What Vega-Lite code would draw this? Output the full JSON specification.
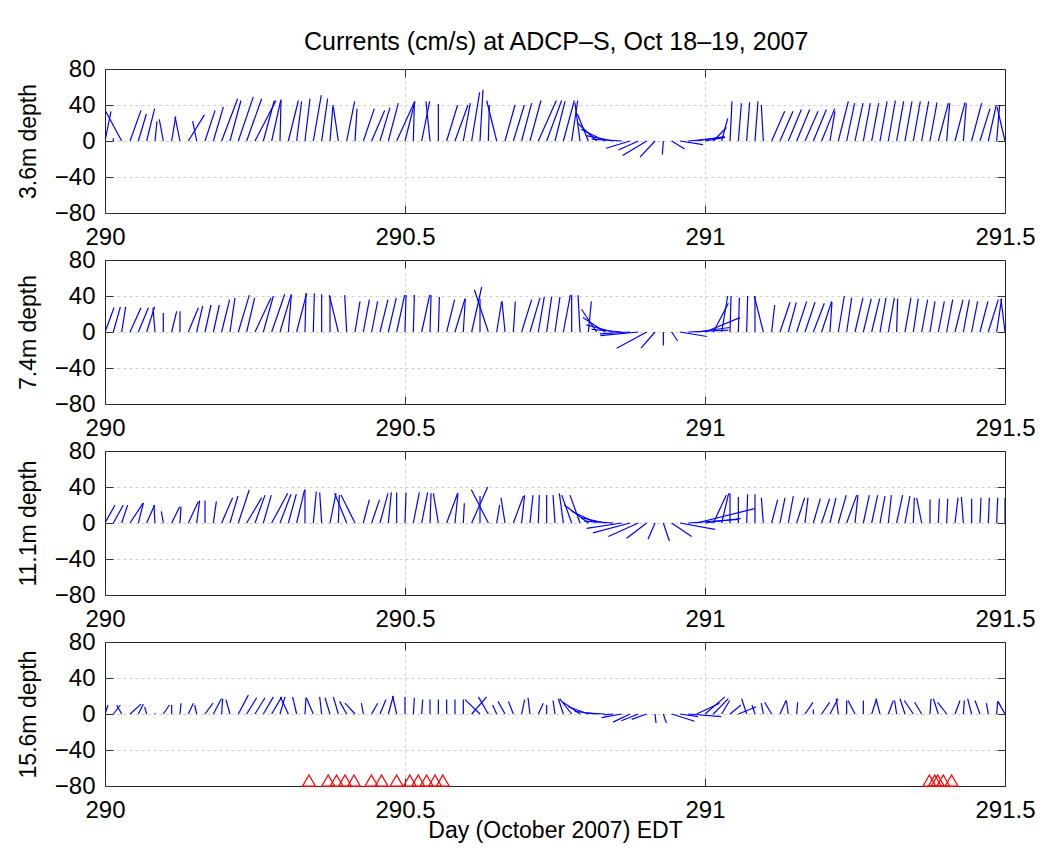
{
"$schema": "https://vega.github.io/schema/vega-lite/v6.json",
"padding": {"left": 16, "top": 29, "right": 12, "bottom": 6},
"title": {"text": "Currents (cm/s) at ADCP–S, Oct 18–19, 2007", "fontSize": 25, "fontWeight": "normal", "color": "#000", "offset": 2, "anchor": "middle", "dx": 30},
"datasets": {
"a": [
{"t":290.0000,"t2":290.0100,"v":33},{"t":290.0139,"t2":290.0139,"v":3},{"t":290.0278,"t2":290.0011,"v":33},{"t":290.0417,"t2":290.0600,"v":34},{"t":290.0556,"t2":290.0689,"v":30},{"t":290.0694,"t2":290.0827,"v":36},{"t":290.0833,"t2":290.0866,"v":22},{"t":290.0972,"t2":290.0905,"v":24},{"t":290.1111,"t2":290.1178,"v":27},{"t":290.1250,"t2":290.1167,"v":27},
{"t":290.1389,"t2":290.1656,"v":29},{"t":290.1528,"t2":290.1461,"v":22},{"t":290.1667,"t2":290.1834,"v":34},{"t":290.1806,"t2":290.1973,"v":38},{"t":290.1944,"t2":290.2211,"v":47},{"t":290.2083,"t2":290.2266,"v":45},{"t":290.2222,"t2":290.2472,"v":49},{"t":290.2361,"t2":290.2611,"v":47},{"t":290.2500,"t2":290.2850,"v":45},{"t":290.2639,"t2":290.2822,"v":45},
{"t":290.2778,"t2":290.2928,"v":45},{"t":290.2917,"t2":290.2934,"v":46},{"t":290.3056,"t2":290.3223,"v":45},{"t":290.3194,"t2":290.3277,"v":44},{"t":290.3333,"t2":290.3416,"v":47},{"t":290.3472,"t2":290.3605,"v":51},{"t":290.3611,"t2":290.3711,"v":47},{"t":290.3750,"t2":290.3800,"v":40},{"t":290.3889,"t2":290.3806,"v":38},{"t":290.4028,"t2":290.4161,"v":44},
{"t":290.4167,"t2":290.4200,"v":36},{"t":290.4306,"t2":290.4489,"v":36},{"t":290.4444,"t2":290.4661,"v":34},{"t":290.4583,"t2":290.4750,"v":37},{"t":290.4722,"t2":290.4889,"v":42},{"t":290.4861,"t2":290.5161,"v":44},{"t":290.5000,"t2":290.5167,"v":44},{"t":290.5139,"t2":290.5156,"v":42},{"t":290.5278,"t2":290.5411,"v":44},{"t":290.5417,"t2":290.5350,"v":44},
{"t":290.5556,"t2":290.5556,"v":41},{"t":290.5694,"t2":290.5877,"v":40},{"t":290.5833,"t2":290.6050,"v":40},{"t":290.5972,"t2":290.6089,"v":42},{"t":290.6111,"t2":290.6244,"v":54},{"t":290.6250,"t2":290.6300,"v":57},{"t":290.6389,"t2":290.6406,"v":40},{"t":290.6528,"t2":290.6361,"v":45},{"t":290.6667,"t2":290.6834,"v":40},{"t":290.6806,"t2":290.6989,"v":40},
{"t":290.6944,"t2":290.7111,"v":42},{"t":290.7083,"t2":290.7266,"v":45},{"t":290.7222,"t2":290.7522,"v":45},{"t":290.7361,"t2":290.7611,"v":45},{"t":290.7500,"t2":290.7667,"v":44},{"t":290.7639,"t2":290.7822,"v":45},{"t":290.7778,"t2":290.7878,"v":45},{"t":290.7917,"t2":290.7834,"v":42},{"t":290.8056,"t2":290.7873,"v":30},{"t":290.8194,"t2":290.7877,"v":20},
{"t":290.8333,"t2":290.7933,"v":13},{"t":290.8472,"t2":290.8022,"v":6},{"t":290.8611,"t2":290.8111,"v":2},{"t":290.8750,"t2":290.8350,"v":-8},{"t":290.8889,"t2":290.8556,"v":-10},{"t":290.9028,"t2":290.8628,"v":-16},{"t":290.9167,"t2":290.8917,"v":-18},{"t":290.9306,"t2":290.9289,"v":-15},{"t":290.9444,"t2":290.9661,"v":-9},{"t":290.9583,"t2":290.9966,"v":-4},
{"t":290.9722,"t2":291.0322,"v":4},{"t":290.9861,"t2":291.0328,"v":5},{"t":291.0000,"t2":291.0333,"v":4},{"t":291.0139,"t2":291.0356,"v":15},{"t":291.0278,"t2":291.0378,"v":25},{"t":291.0417,"t2":291.0450,"v":44},{"t":291.0556,"t2":291.0606,"v":42},{"t":291.0694,"t2":291.0744,"v":43},{"t":291.0833,"t2":291.0883,"v":44},{"t":291.0972,"t2":291.0939,"v":40},
{"t":291.1111,"t2":291.1328,"v":33},{"t":291.1250,"t2":291.1467,"v":33},{"t":291.1389,"t2":291.1606,"v":35},{"t":291.1528,"t2":291.1745,"v":35},{"t":291.1667,"t2":291.1884,"v":33},{"t":291.1806,"t2":291.2023,"v":35},{"t":291.1944,"t2":291.2161,"v":36},{"t":291.2083,"t2":291.2166,"v":33},{"t":291.2222,"t2":291.2389,"v":44},{"t":291.2361,"t2":291.2494,"v":42},
{"t":291.2500,"t2":291.2633,"v":42},{"t":291.2639,"t2":291.2756,"v":42},{"t":291.2778,"t2":291.2895,"v":42},{"t":291.2917,"t2":291.3034,"v":44},{"t":291.3056,"t2":291.3173,"v":45},{"t":291.3194,"t2":291.3311,"v":44},{"t":291.3333,"t2":291.3450,"v":44},{"t":291.3472,"t2":291.3589,"v":44},{"t":291.3611,"t2":291.3728,"v":44},{"t":291.3750,"t2":291.3867,"v":43},
{"t":291.3889,"t2":291.4056,"v":42},{"t":291.4028,"t2":291.4078,"v":42},{"t":291.4167,"t2":291.4334,"v":43},{"t":291.4306,"t2":291.4356,"v":42},{"t":291.4444,"t2":291.4611,"v":42},{"t":291.4583,"t2":291.4750,"v":36},{"t":291.4722,"t2":291.4855,"v":40},{"t":291.4861,"t2":291.4911,"v":40},{"t":291.5000,"t2":291.4867,"v":38}
],
"b": [
{"t":290.0000,"t2":290.0150,"v":27},{"t":290.0139,"t2":290.0256,"v":28},{"t":290.0278,"t2":290.0345,"v":28},{"t":290.0417,"t2":290.0600,"v":27},{"t":290.0556,"t2":290.0723,"v":27},{"t":290.0694,"t2":290.0827,"v":28},{"t":290.0833,"t2":290.0800,"v":27},{"t":290.0972,"t2":290.0972,"v":21},{"t":290.1111,"t2":290.1194,"v":23},{"t":290.1250,"t2":290.1250,"v":23},
{"t":290.1389,"t2":290.1556,"v":27},{"t":290.1528,"t2":290.1628,"v":29},{"t":290.1667,"t2":290.1767,"v":30},{"t":290.1806,"t2":290.1906,"v":30},{"t":290.1944,"t2":290.2077,"v":36},{"t":290.2083,"t2":290.2166,"v":38},{"t":290.2222,"t2":290.2405,"v":41},{"t":290.2361,"t2":290.2494,"v":38},{"t":290.2500,"t2":290.2767,"v":38},{"t":290.2639,"t2":290.2806,"v":40},
{"t":290.2778,"t2":290.2995,"v":42},{"t":290.2917,"t2":290.3100,"v":41},{"t":290.3056,"t2":290.3106,"v":42},{"t":290.3194,"t2":290.3361,"v":43},{"t":290.3333,"t2":290.3350,"v":43},{"t":290.3472,"t2":290.3489,"v":43},{"t":290.3611,"t2":290.3611,"v":42},{"t":290.3750,"t2":290.3750,"v":40},{"t":290.3889,"t2":290.3739,"v":41},{"t":290.4028,"t2":290.3995,"v":41},
{"t":290.4167,"t2":290.4250,"v":34},{"t":290.4306,"t2":290.4406,"v":36},{"t":290.4444,"t2":290.4544,"v":34},{"t":290.4583,"t2":290.4716,"v":36},{"t":290.4722,"t2":290.4855,"v":38},{"t":290.4861,"t2":290.4994,"v":41},{"t":290.5000,"t2":290.5017,"v":41},{"t":290.5139,"t2":290.5156,"v":41},{"t":290.5278,"t2":290.5411,"v":41},{"t":290.5417,"t2":290.5434,"v":41},
{"t":290.5556,"t2":290.5573,"v":39},{"t":290.5694,"t2":290.5827,"v":36},{"t":290.5833,"t2":290.6000,"v":37},{"t":290.5972,"t2":290.6005,"v":37},{"t":290.6111,"t2":290.6278,"v":50},{"t":290.6250,"t2":290.6250,"v":37},{"t":290.6389,"t2":290.6156,"v":47},{"t":290.6528,"t2":290.6611,"v":34},{"t":290.6667,"t2":290.6617,"v":34},{"t":290.6806,"t2":290.6839,"v":34},
{"t":290.6944,"t2":290.7111,"v":36},{"t":290.7083,"t2":290.7250,"v":38},{"t":290.7222,"t2":290.7322,"v":39},{"t":290.7361,"t2":290.7444,"v":39},{"t":290.7500,"t2":290.7583,"v":39},{"t":290.7639,"t2":290.7756,"v":41},{"t":290.7778,"t2":290.7778,"v":41},{"t":290.7917,"t2":290.7884,"v":41},{"t":290.8056,"t2":290.8106,"v":34},{"t":290.8194,"t2":290.7944,"v":25},
{"t":290.8333,"t2":290.7966,"v":16},{"t":290.8472,"t2":290.8022,"v":8},{"t":290.8611,"t2":290.8111,"v":3},{"t":290.8750,"t2":290.8250,"v":-2},{"t":290.8889,"t2":290.8256,"v":-4},{"t":290.9028,"t2":290.8528,"v":-18},{"t":290.9167,"t2":290.8934,"v":-18},{"t":290.9306,"t2":290.9306,"v":-15},{"t":290.9444,"t2":290.9544,"v":-10},{"t":290.9583,"t2":291.0033,"v":-5},
{"t":290.9722,"t2":291.0389,"v":2},{"t":290.9861,"t2":291.0411,"v":5},{"t":291.0000,"t2":291.0583,"v":16},{"t":291.0139,"t2":291.0389,"v":32},{"t":291.0278,"t2":291.0378,"v":40},{"t":291.0417,"t2":291.0434,"v":40},{"t":291.0556,"t2":291.0573,"v":38},{"t":291.0694,"t2":291.0711,"v":40},{"t":291.0833,"t2":291.0833,"v":40},{"t":291.0972,"t2":291.0822,"v":40},
{"t":291.1111,"t2":291.1161,"v":30},{"t":291.1250,"t2":291.1417,"v":33},{"t":291.1389,"t2":291.1522,"v":33},{"t":291.1528,"t2":291.1695,"v":34},{"t":291.1667,"t2":291.1834,"v":33},{"t":291.1806,"t2":291.1989,"v":32},{"t":291.1944,"t2":291.2111,"v":34},{"t":291.2083,"t2":291.2116,"v":33},{"t":291.2222,"t2":291.2322,"v":40},{"t":291.2361,"t2":291.2444,"v":38},
{"t":291.2500,"t2":291.2633,"v":38},{"t":291.2639,"t2":291.2772,"v":37},{"t":291.2778,"t2":291.2911,"v":37},{"t":291.2917,"t2":291.3017,"v":38},{"t":291.3056,"t2":291.3156,"v":38},{"t":291.3194,"t2":291.3211,"v":37},{"t":291.3333,"t2":291.3433,"v":38},{"t":291.3472,"t2":291.3555,"v":37},{"t":291.3611,"t2":291.3711,"v":36},{"t":291.3750,"t2":291.3833,"v":34},
{"t":291.3889,"t2":291.3989,"v":34},{"t":291.4028,"t2":291.4128,"v":36},{"t":291.4167,"t2":291.4300,"v":36},{"t":291.4306,"t2":291.4406,"v":36},{"t":291.4444,"t2":291.4544,"v":34},{"t":291.4583,"t2":291.4716,"v":34},{"t":291.4722,"t2":291.4889,"v":36},{"t":291.4861,"t2":291.4944,"v":37},{"t":291.5000,"t2":291.4933,"v":37}
],
"c": [
{"t":290.0000,"t2":290.0167,"v":20},{"t":290.0139,"t2":290.0306,"v":20},{"t":290.0278,"t2":290.0378,"v":20},{"t":290.0417,"t2":290.0634,"v":22},{"t":290.0556,"t2":290.0639,"v":22},{"t":290.0694,"t2":290.0827,"v":20},{"t":290.0833,"t2":290.0816,"v":20},{"t":290.0972,"t2":290.0939,"v":13},{"t":290.1111,"t2":290.1244,"v":18},{"t":290.1250,"t2":290.1267,"v":18},
{"t":290.1389,"t2":290.1556,"v":24},{"t":290.1528,"t2":290.1578,"v":25},{"t":290.1667,"t2":290.1667,"v":25},{"t":290.1806,"t2":290.1856,"v":24},{"t":290.1944,"t2":290.2127,"v":28},{"t":290.2083,"t2":290.2216,"v":30},{"t":290.2222,"t2":290.2405,"v":37},{"t":290.2361,"t2":290.2611,"v":28},{"t":290.2500,"t2":290.2667,"v":31},{"t":290.2639,"t2":290.2772,"v":31},
{"t":290.2778,"t2":290.3045,"v":33},{"t":290.2917,"t2":290.3100,"v":32},{"t":290.3056,"t2":290.3189,"v":32},{"t":290.3194,"t2":290.3327,"v":37},{"t":290.3333,"t2":290.3333,"v":37},{"t":290.3472,"t2":290.3522,"v":35},{"t":290.3611,"t2":290.3578,"v":34},{"t":290.3750,"t2":290.3850,"v":33},{"t":290.3889,"t2":290.3906,"v":31},{"t":290.4028,"t2":290.3828,"v":33},
{"t":290.4167,"t2":290.3934,"v":31},{"t":290.4306,"t2":290.4406,"v":26},{"t":290.4444,"t2":290.4577,"v":26},{"t":290.4583,"t2":290.4716,"v":33},{"t":290.4722,"t2":290.4772,"v":34},{"t":290.4861,"t2":290.4861,"v":34},{"t":290.5000,"t2":290.5017,"v":34},{"t":290.5139,"t2":290.5239,"v":34},{"t":290.5278,"t2":290.5378,"v":34},{"t":290.5417,"t2":290.5434,"v":33},
{"t":290.5556,"t2":290.5473,"v":33},{"t":290.5694,"t2":290.5877,"v":33},{"t":290.5833,"t2":290.5883,"v":33},{"t":290.5972,"t2":290.5989,"v":22},{"t":290.6111,"t2":290.6378,"v":40},{"t":290.6250,"t2":290.6250,"v":30},{"t":290.6389,"t2":290.6106,"v":37},{"t":290.6528,"t2":290.6578,"v":20},{"t":290.6667,"t2":290.6600,"v":28},{"t":290.6806,"t2":290.6973,"v":30},
{"t":290.6944,"t2":290.6994,"v":31},{"t":290.7083,"t2":290.7133,"v":31},{"t":290.7222,"t2":290.7239,"v":31},{"t":290.7361,"t2":290.7361,"v":31},{"t":290.7500,"t2":290.7467,"v":31},{"t":290.7639,"t2":290.7572,"v":33},{"t":290.7778,"t2":290.7611,"v":31},{"t":290.7917,"t2":290.7750,"v":31},{"t":290.8056,"t2":290.7656,"v":20},{"t":290.8194,"t2":290.7777,"v":13},
{"t":290.8333,"t2":290.7933,"v":6},{"t":290.8472,"t2":290.7989,"v":2},{"t":290.8611,"t2":290.8028,"v":-6},{"t":290.8750,"t2":290.8133,"v":-11},{"t":290.8889,"t2":290.8389,"v":-15},{"t":290.9028,"t2":290.8695,"v":-17},{"t":290.9167,"t2":290.9050,"v":-18},{"t":290.9306,"t2":290.9406,"v":-20},{"t":290.9444,"t2":290.9777,"v":-15},{"t":290.9583,"t2":291.0166,"v":-7},
{"t":290.9722,"t2":291.0555,"v":4},{"t":290.9861,"t2":291.0828,"v":16},{"t":291.0000,"t2":291.0600,"v":5},{"t":291.0139,"t2":291.0356,"v":31},{"t":291.0278,"t2":291.0395,"v":33},{"t":291.0417,"t2":291.0417,"v":33},{"t":291.0556,"t2":291.0556,"v":29},{"t":291.0694,"t2":291.0711,"v":32},{"t":291.0833,"t2":291.0833,"v":32},{"t":291.0972,"t2":291.0939,"v":28},
{"t":291.1111,"t2":291.1211,"v":26},{"t":291.1250,"t2":291.1333,"v":28},{"t":291.1389,"t2":291.1472,"v":30},{"t":291.1528,"t2":291.1661,"v":28},{"t":291.1667,"t2":291.1717,"v":28},{"t":291.1806,"t2":291.1923,"v":27},{"t":291.1944,"t2":291.2077,"v":27},{"t":291.2083,"t2":291.2183,"v":28},{"t":291.2222,"t2":291.2355,"v":31},{"t":291.2361,"t2":291.2528,"v":31},
{"t":291.2500,"t2":291.2550,"v":31},{"t":291.2639,"t2":291.2739,"v":31},{"t":291.2778,"t2":291.2878,"v":31},{"t":291.2917,"t2":291.3000,"v":30},{"t":291.3056,"t2":291.3106,"v":31},{"t":291.3194,"t2":291.3294,"v":31},{"t":291.3333,"t2":291.3416,"v":30},{"t":291.3472,"t2":291.3489,"v":28},{"t":291.3611,"t2":291.3528,"v":28},{"t":291.3750,"t2":291.3750,"v":26},
{"t":291.3889,"t2":291.3906,"v":27},{"t":291.4028,"t2":291.4045,"v":27},{"t":291.4167,"t2":291.4217,"v":28},{"t":291.4306,"t2":291.4273,"v":29},{"t":291.4444,"t2":291.4444,"v":27},{"t":291.4583,"t2":291.4600,"v":28},{"t":291.4722,"t2":291.4739,"v":28},{"t":291.4861,"t2":291.4878,"v":28},{"t":291.5000,"t2":291.5000,"v":28}
],
"d": [
{"t":290.0000,"t2":290.0050,"v":10},{"t":290.0139,"t2":290.0256,"v":10},{"t":290.0278,"t2":290.0195,"v":10},{"t":290.0417,"t2":290.0600,"v":11},{"t":290.0556,"t2":290.0639,"v":11},{"t":290.0694,"t2":290.0661,"v":8},{"t":290.0833,"t2":290.0833,"v":1},{"t":290.0972,"t2":290.1072,"v":10},{"t":290.1111,"t2":290.1111,"v":10},{"t":290.1250,"t2":290.1267,"v":12},
{"t":290.1389,"t2":290.1472,"v":12},{"t":290.1528,"t2":290.1495,"v":10},{"t":290.1667,"t2":290.1800,"v":12},{"t":290.1806,"t2":290.1939,"v":17},{"t":290.1944,"t2":290.1961,"v":17},{"t":290.2083,"t2":290.2016,"v":16},{"t":290.2222,"t2":290.2389,"v":21},{"t":290.2361,"t2":290.2528,"v":18},{"t":290.2500,"t2":290.2667,"v":18},{"t":290.2639,"t2":290.2806,"v":19},
{"t":290.2778,"t2":290.2945,"v":19},{"t":290.2917,"t2":290.3000,"v":19},{"t":290.3056,"t2":290.2923,"v":19},{"t":290.3194,"t2":290.3127,"v":19},{"t":290.3333,"t2":290.3350,"v":18},{"t":290.3472,"t2":290.3355,"v":18},{"t":290.3611,"t2":290.3578,"v":19},{"t":290.3750,"t2":290.3667,"v":18},{"t":290.3889,"t2":290.3806,"v":19},{"t":290.4028,"t2":290.3911,"v":14},
{"t":290.4167,"t2":290.4000,"v":12},{"t":290.4306,"t2":290.4273,"v":12},{"t":290.4444,"t2":290.4544,"v":12},{"t":290.4583,"t2":290.4683,"v":16},{"t":290.4722,"t2":290.4805,"v":20},{"t":290.4861,"t2":290.4794,"v":20},{"t":290.5000,"t2":290.5000,"v":19},{"t":290.5139,"t2":290.5156,"v":18},{"t":290.5278,"t2":290.5295,"v":16},{"t":290.5417,"t2":290.5417,"v":16},
{"t":290.5556,"t2":290.5556,"v":16},{"t":290.5694,"t2":290.5694,"v":16},{"t":290.5833,"t2":290.5833,"v":16},{"t":290.5972,"t2":290.5972,"v":16},{"t":290.6111,"t2":290.6361,"v":19},{"t":290.6250,"t2":290.6000,"v":16},{"t":290.6389,"t2":290.6222,"v":19},{"t":290.6528,"t2":290.6461,"v":10},{"t":290.6667,"t2":290.6550,"v":14},{"t":290.6806,"t2":290.6723,"v":14},
{"t":290.6944,"t2":290.6994,"v":16},{"t":290.7083,"t2":290.7050,"v":18},{"t":290.7222,"t2":290.7305,"v":12},{"t":290.7361,"t2":290.7361,"v":10},{"t":290.7500,"t2":290.7467,"v":15},{"t":290.7639,"t2":290.7556,"v":17},{"t":290.7778,"t2":290.7578,"v":17},{"t":290.7917,"t2":290.7634,"v":13},{"t":290.8056,"t2":290.7723,"v":8},{"t":290.8194,"t2":290.7827,"v":3},
{"t":290.8333,"t2":290.8050,"v":1},{"t":290.8472,"t2":290.8322,"v":-1},{"t":290.8611,"t2":290.8278,"v":-4},{"t":290.8750,"t2":290.8467,"v":-9},{"t":290.8889,"t2":290.8606,"v":-7.5},{"t":290.9028,"t2":290.8778,"v":-6},{"t":290.9167,"t2":290.9184,"v":-10},{"t":290.9306,"t2":290.9356,"v":-10},{"t":290.9444,"t2":290.9827,"v":-8},{"t":290.9583,"t2":290.9883,"v":-3},
{"t":290.9722,"t2":291.0272,"v":-3},{"t":290.9861,"t2":291.0244,"v":12},{"t":291.0000,"t2":291.0333,"v":19},{"t":291.0139,"t2":291.0389,"v":17},{"t":291.0278,"t2":291.0411,"v":15},{"t":291.0417,"t2":291.0600,"v":10},{"t":291.0556,"t2":291.0856,"v":8},{"t":291.0694,"t2":291.0611,"v":17},{"t":291.0833,"t2":291.0783,"v":10},{"t":291.0972,"t2":291.0939,"v":12},
{"t":291.1111,"t2":291.0994,"v":13},{"t":291.1250,"t2":291.1350,"v":15},{"t":291.1389,"t2":291.1356,"v":15},{"t":291.1528,"t2":291.1545,"v":13},{"t":291.1667,"t2":291.1800,"v":13},{"t":291.1806,"t2":291.1806,"v":5},{"t":291.1944,"t2":291.2077,"v":13},{"t":291.2083,"t2":291.2216,"v":17},{"t":291.2222,"t2":291.2189,"v":17},{"t":291.2361,"t2":291.2361,"v":15},
{"t":291.2500,"t2":291.2383,"v":15},{"t":291.2639,"t2":291.2639,"v":15},{"t":291.2778,"t2":291.2861,"v":17},{"t":291.2917,"t2":291.2850,"v":17},{"t":291.3056,"t2":291.3139,"v":15},{"t":291.3194,"t2":291.3161,"v":15},{"t":291.3333,"t2":291.3250,"v":17},{"t":291.3472,"t2":291.3322,"v":15},{"t":291.3611,"t2":291.3494,"v":13},{"t":291.3750,"t2":291.3767,"v":17},
{"t":291.3889,"t2":291.3806,"v":17},{"t":291.4028,"t2":291.3878,"v":13},{"t":291.4167,"t2":291.4250,"v":15},{"t":291.4306,"t2":291.4323,"v":15},{"t":291.4444,"t2":291.4377,"v":17},{"t":291.4583,"t2":291.4500,"v":15},{"t":291.4722,"t2":291.4689,"v":12},{"t":291.4861,"t2":291.4878,"v":14},{"t":291.5000,"t2":291.4883,"v":14}
],
"tri": [
{"t":290.340,"y":-74},{"t":290.372,"y":-74},{"t":290.386,"y":-74},{"t":290.400,"y":-74},{"t":290.415,"y":-74},{"t":290.444,"y":-74},{"t":290.461,"y":-74},{"t":290.486,"y":-74},{"t":290.508,"y":-74},{"t":290.522,"y":-74},{"t":290.536,"y":-74},{"t":290.550,"y":-74},{"t":290.563,"y":-74},
{"t":291.374,"y":-74},{"t":291.383,"y":-74},{"t":291.388,"y":-74},{"t":291.397,"y":-74},{"t":291.411,"y":-74}
]
},
"spacing": 47,
"bounds": "flush",
"vconcat": [
{"width": 900, "height": 144, "resolve": {"axis": {"x": "independent", "y": "independent"}},
 "layer": [
  {"data": {"name": "a"}, "mark": {"type": "rule", "color": "#0000ff", "strokeWidth": 1.2, "clip": true},
   "encoding": {
    "x": {"field": "t2", "type": "quantitative", "scale": {"domain": [290, 291.5], "nice": false, "zero": false}, "axis": {"values": [290, 290.5, 291, 291.5], "format": "~g", "labelFlush": false, "labelPadding": 20, "title": null, "grid": true, "gridOpacity": {"condition": {"test": "datum.value == 290 || datum.value == 291.5", "value": 0}, "value": 1}}},
    "x2": {"field": "t"},
    "y": {"field": "v", "type": "quantitative", "scale": {"domain": [-80, 80], "nice": false}, "axis": {"values": [-80, -40, 0, 40, 80], "labelPadding": 18, "title": "3.6m depth", "titlePadding": 14, "grid": true, "gridOpacity": {"condition": {"test": "abs(datum.value) == 80", "value": 0}, "value": 1}}},
    "y2": {"datum": 0}}},
  {"mark": {"type": "rule", "color": "#000", "strokeWidth": 1.2},
   "encoding": {
    "x": {"datum": 290, "type": "quantitative", "axis": {"orient": "top", "values": [290.5, 291], "labels": false, "grid": false, "title": null}},
    "x2": {"datum": 291.5},
    "y": {"datum": 0, "type": "quantitative", "axis": {"orient": "right", "values": [-40, 0, 40], "labels": false, "grid": false, "title": null}}}}
 ]},
{"width": 900, "height": 144, "resolve": {"axis": {"x": "independent", "y": "independent"}},
 "layer": [
  {"data": {"name": "b"}, "mark": {"type": "rule", "color": "#0000ff", "strokeWidth": 1.2, "clip": true},
   "encoding": {
    "x": {"field": "t2", "type": "quantitative", "scale": {"domain": [290, 291.5], "nice": false, "zero": false}, "axis": {"values": [290, 290.5, 291, 291.5], "format": "~g", "labelFlush": false, "labelPadding": 20, "title": null, "grid": true, "gridOpacity": {"condition": {"test": "datum.value == 290 || datum.value == 291.5", "value": 0}, "value": 1}}},
    "x2": {"field": "t"},
    "y": {"field": "v", "type": "quantitative", "scale": {"domain": [-80, 80], "nice": false}, "axis": {"values": [-80, -40, 0, 40, 80], "labelPadding": 18, "title": "7.4m depth", "titlePadding": 14, "grid": true, "gridOpacity": {"condition": {"test": "abs(datum.value) == 80", "value": 0}, "value": 1}}},
    "y2": {"datum": 0}}},
  {"mark": {"type": "rule", "color": "#000", "strokeWidth": 1.2},
   "encoding": {
    "x": {"datum": 290, "type": "quantitative", "axis": {"orient": "top", "values": [290.5, 291], "labels": false, "grid": false, "title": null}},
    "x2": {"datum": 291.5},
    "y": {"datum": 0, "type": "quantitative", "axis": {"orient": "right", "values": [-40, 0, 40], "labels": false, "grid": false, "title": null}}}}
 ]},
{"width": 900, "height": 144, "resolve": {"axis": {"x": "independent", "y": "independent"}},
 "layer": [
  {"data": {"name": "c"}, "mark": {"type": "rule", "color": "#0000ff", "strokeWidth": 1.2, "clip": true},
   "encoding": {
    "x": {"field": "t2", "type": "quantitative", "scale": {"domain": [290, 291.5], "nice": false, "zero": false}, "axis": {"values": [290, 290.5, 291, 291.5], "format": "~g", "labelFlush": false, "labelPadding": 20, "title": null, "grid": true, "gridOpacity": {"condition": {"test": "datum.value == 290 || datum.value == 291.5", "value": 0}, "value": 1}}},
    "x2": {"field": "t"},
    "y": {"field": "v", "type": "quantitative", "scale": {"domain": [-80, 80], "nice": false}, "axis": {"values": [-80, -40, 0, 40, 80], "labelPadding": 18, "title": "11.1m depth", "titlePadding": 14, "grid": true, "gridOpacity": {"condition": {"test": "abs(datum.value) == 80", "value": 0}, "value": 1}}},
    "y2": {"datum": 0}}},
  {"mark": {"type": "rule", "color": "#000", "strokeWidth": 1.2},
   "encoding": {
    "x": {"datum": 290, "type": "quantitative", "axis": {"orient": "top", "values": [290.5, 291], "labels": false, "grid": false, "title": null}},
    "x2": {"datum": 291.5},
    "y": {"datum": 0, "type": "quantitative", "axis": {"orient": "right", "values": [-40, 0, 40], "labels": false, "grid": false, "title": null}}}}
 ]},
{"width": 900, "height": 144, "resolve": {"axis": {"x": "independent", "y": "independent"}},
 "layer": [
  {"data": {"name": "d"}, "mark": {"type": "rule", "color": "#0000ff", "strokeWidth": 1.2, "clip": true},
   "encoding": {
    "x": {"field": "t2", "type": "quantitative", "scale": {"domain": [290, 291.5], "nice": false, "zero": false}, "axis": {"values": [290, 290.5, 291, 291.5], "format": "~g", "labelFlush": false, "labelPadding": 20, "title": "Day (October 2007) EDT", "titlePadding": -3, "grid": true, "gridOpacity": {"condition": {"test": "datum.value == 290 || datum.value == 291.5", "value": 0}, "value": 1}}},
    "x2": {"field": "t"},
    "y": {"field": "v", "type": "quantitative", "scale": {"domain": [-80, 80], "nice": false}, "axis": {"values": [-80, -40, 0, 40, 80], "labelPadding": 18, "title": "15.6m depth", "titlePadding": 14, "grid": true, "gridOpacity": {"condition": {"test": "abs(datum.value) == 80", "value": 0}, "value": 1}}},
    "y2": {"datum": 0}}},
  {"mark": {"type": "rule", "color": "#000", "strokeWidth": 1.2},
   "encoding": {
    "x": {"datum": 290, "type": "quantitative", "axis": {"orient": "top", "values": [290.5, 291], "labels": false, "grid": false, "title": null}},
    "x2": {"datum": 291.5},
    "y": {"datum": 0, "type": "quantitative", "axis": {"orient": "right", "values": [-40, 0, 40], "labels": false, "grid": false, "title": null}}}},
  {"data": {"name": "tri"}, "mark": {"type": "point", "shape": "triangle-up", "filled": false, "color": "#ff0000", "size": 169, "strokeWidth": 1.3, "opacity": 1},
   "encoding": {
    "x": {"field": "t", "type": "quantitative", "axis": null},
    "y": {"field": "y", "type": "quantitative", "axis": null}}}
 ]}
],
"config": {
 "font": "Liberation Sans",
 "view": {"stroke": "#222", "strokeWidth": 1},
 "axis": {"domain": false, "labelFontSize": 24, "labelColor": "#000", "titleFontSize": 23, "titleFontWeight": "normal", "titleColor": "#000", "tickColor": "#333", "tickSize": -8, "tickWidth": 1, "gridColor": "#d0d0d0", "gridDash": [3, 3], "gridWidth": 1}
}
}
